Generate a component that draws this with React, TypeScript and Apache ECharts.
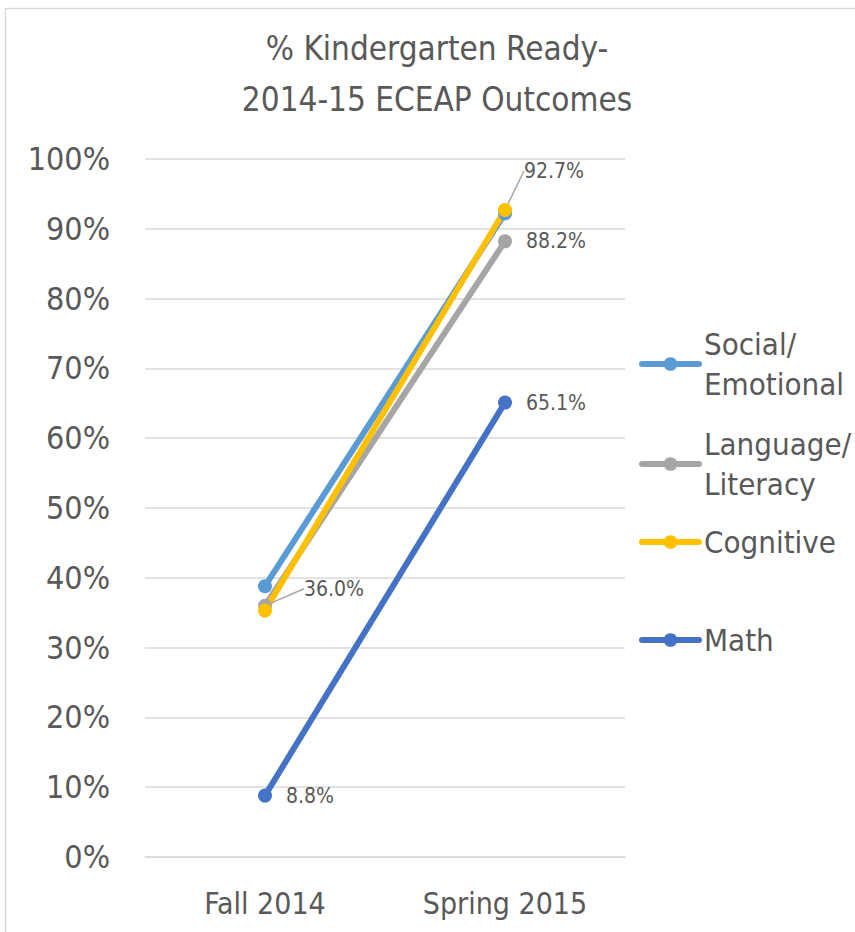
import React, { useEffect, useRef } from "react";
import * as echarts from "echarts";

const categories = ["Fall 2014", "Spring 2015"];
const socialEmotional = [38.8, 92.2];
const languageLiteracy = [36.0, 88.2];
const cognitive = [35.3, 92.7];
const math = [8.8, 65.1];
const seriesNames = ["Social/\nEmotional", "Language/\nLiteracy", "Cognitive", "Math"];
const colors = ["#5B9BD5", "#A5A5A5", "#FFC000", "#4472C4"];

const FONT = "'Liberation Sans Narrow', 'DejaVu Sans Condensed', 'Noto Sans', sans-serif";
const TXT = "#595959";

export default function App() {
  const ref = useRef<HTMLDivElement>(null);
  useEffect(() => {
    const chart = echarts.init(ref.current!, null, { renderer: "svg" });
    const lbl = (show: boolean) => ({
      show,
      position: "right",
      distance: 14,
      formatter: (p: any) => p.value.toFixed(1) + "%",
      fontFamily: FONT,
      fontSize: 21,
      color: TXT,
    });
    const mkSeries = (
      name: string,
      data: number[],
      color: string,
      shows: boolean[],
      leader: boolean[],
      layout?: any
    ) => ({
      name,
      type: "line",
      data: data.map((v, i) => ({
        value: v,
        label: lbl(shows[i]),
        labelLine: { show: leader[i], lineStyle: { color: "#A5A5A5", width: 1.5 } },
      })),
      symbol: "circle",
      symbolSize: 14,
      lineStyle: { width: 6, color },
      itemStyle: { color },
      labelLayout: layout,
    });
    const legendBase = (name: string, top: number, twoLine: boolean) => ({
      data: [name],
      left: 639,
      top,
      orient: "vertical",
      itemWidth: 57,
      itemHeight: 17,
      itemGap: 0,
      padding: 0,
      selectedMode: false,
      lineStyle: { width: 6, cap: "round" },
      textStyle: {
        fontFamily: FONT,
        fontSize: 31,
        color: TXT,
        lineHeight: 40,
        padding: twoLine ? [40, 0, 0, 0] : [0, 0, 0, 0],
      },
    });
    chart.setOption({
      animation: false,
      backgroundColor: "#fff",
      title: {
        text: "% Kindergarten Ready-\n2014-15 ECEAP Outcomes",
        left: 432,
        textAlign: "center",
        top: 18,
        textStyle: { fontFamily: FONT, fontSize: 33, fontWeight: "normal", color: TXT, lineHeight: 51 },
      },
      graphic: [
        {
          type: "rect",
          shape: { x: 5.5, y: 8.5, width: 1000, height: 1000 },
          style: { fill: "none", stroke: "#D9D9D9", lineWidth: 1.5 },
          silent: true,
        },
      ],
      legend: [
        legendBase(seriesNames[0], 304, true),
        legendBase(seriesNames[1], 404, true),
        legendBase(seriesNames[2], 522, false),
        legendBase(seriesNames[3], 620, false),
      ],
      grid: { left: 145, right: 230, top: 159, bottom: 75 },
      xAxis: {
        type: "category",
        data: categories,
        boundaryGap: true,
        axisLine: { show: true, lineStyle: { color: "#D9D9D9", width: 1.5 } },
        axisTick: { show: false },
        axisLabel: { fontFamily: FONT, fontSize: 30, color: TXT, margin: 31 },
      },
      yAxis: {
        type: "value",
        min: 0,
        max: 100,
        interval: 10,
        axisLine: { show: false },
        axisTick: { show: false },
        splitLine: { lineStyle: { color: "#D9D9D9", width: 1.5 } },
        axisLabel: { formatter: "{value}%", fontFamily: FONT, fontSize: 32, color: TXT, margin: 35 },
      },
      series: [
        mkSeries(seriesNames[0], socialEmotional, colors[0], [false, false], [false, false]),
        mkSeries(seriesNames[1], languageLiteracy, colors[1], [true, true], [true, false], (p: any) =>
          p.dataIndex === 0 ? { dx: 18, dy: -17 } : {}
        ),
        mkSeries(seriesNames[2], cognitive, colors[2], [false, true], [false, true], (p: any) =>
          p.dataIndex === 1 ? { dx: -2, dy: -39 } : {}
        ),
        mkSeries(seriesNames[3], math, colors[3], [true, true], [false, false]),
      ],
    });
    return () => chart.dispose();
  }, []);
  return (
    <div
      ref={ref}
      style={{ position: "absolute", left: 0, top: 0, width: 855, height: 932 }}
    />
  );
}
